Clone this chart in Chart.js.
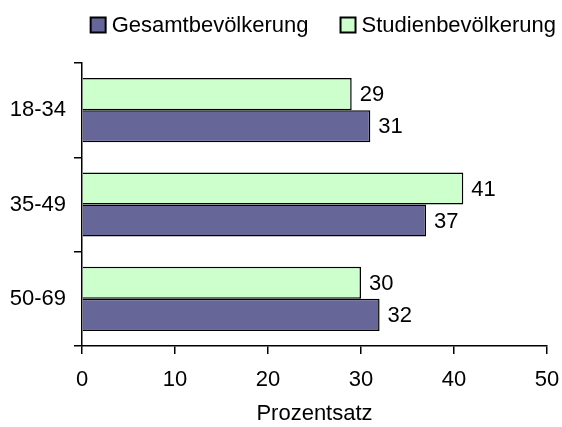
<!DOCTYPE html>
<html lang="de">
<head>
  <meta charset="UTF-8" />
  <title>Altersgruppen</title>
  <script src="https://cdn.jsdelivr.net/npm/chart.js"></script>
  <style>
    html, body {
      margin: 0;
      padding: 0;
      background: #fff;
    }
    #box {
      width: 562px;
      height: 427px;
    }
  </style>
</head>
<body>
  <div id="box"><canvas id="grafico"></canvas></div>

  <script>
    const kategorien = ["18-34", "35-49", "50-69"];
    const studien = [29, 41, 30];
    const gesamt = [31, 37, 32];
    const xTicks = [0, 10, 20, 30, 40, 50];

    const schrift = { family: "'Liberation Sans', Arial, sans-serif", size: 22 };
    const fontStr = `${schrift.size}px ${schrift.family}`;

    // Werte rechts neben die Balken schreiben
    const werteLabels = {
      id: 'werteLabels',
      afterDatasetsDraw(chart) {
        const ctx = chart.ctx;
        ctx.save();
        ctx.font = fontStr;
        ctx.fillStyle = '#000';
        ctx.textAlign = 'left';
        ctx.textBaseline = 'middle';
        chart.data.datasets.forEach((ds, i) => {
          chart.getDatasetMeta(i).data.forEach((bar, j) => {
            ctx.fillText(ds.data[j], bar.x + 8, bar.y + 1);
          });
        });
        ctx.restore();
      }
    };

    // Legende oben rechts, Reihenfolge wie im Original (Gesamt zuerst)
    const legende = {
      id: 'legende',
      afterDraw(chart) {
        const ctx = chart.ctx;
        const items = chart.data.datasets.slice().reverse();
        ctx.save();
        ctx.font = fontStr;
        ctx.textBaseline = 'middle';
        ctx.textAlign = 'left';
        const box = 15, gap = 6, between = 32, yMid = 25;
        let x = 556;
        const pos = [];
        for (let i = items.length - 1; i >= 0; i--) {
          const w = ctx.measureText(items[i].label).width;
          x -= w;
          const tx = x;
          x -= gap + box;
          pos[i] = { bx: x, tx };
          x -= between;
        }
        items.forEach((ds, i) => {
          ctx.fillStyle = ds.backgroundColor;
          ctx.fillRect(pos[i].bx, yMid - box / 2, box, box);
          ctx.lineWidth = 2;
          ctx.strokeStyle = '#000';
          ctx.strokeRect(pos[i].bx, yMid - box / 2, box, box);
          ctx.fillStyle = '#000';
          ctx.fillText(ds.label, pos[i].tx, yMid + 1);
        });
        ctx.restore();
      }
    };

    new Chart(document.getElementById("grafico"), {
      type: 'bar',
      data: {
        labels: kategorien,
        datasets: [
          {
            label: 'Studienbevölkerung',
            data: studien,
            backgroundColor: '#CCFFCC',
            borderColor: '#000',
            borderWidth: 1.5,
            categoryPercentage: 0.68,
            barPercentage: 1
          },
          {
            label: 'Gesamtbevölkerung',
            data: gesamt,
            backgroundColor: '#666699',
            borderColor: '#000',
            borderWidth: 1.5,
            categoryPercentage: 0.68,
            barPercentage: 1
          }
        ]
      },
      options: {
        indexAxis: 'y',
        responsive: true,
        maintainAspectRatio: false,
        animation: false,
        layout: { padding: { top: 63, right: 15, left: 0, bottom: 0 } },
        plugins: {
          legend: { display: false },
          tooltip: { enabled: false }
        },
        scales: {
          x: {
            min: 0,
            max: 50,
            afterBuildTicks(scale) {
              scale.ticks = xTicks.map(v => ({ value: v }));
            },
            afterFit(scale) {
              scale.height = 81;
              scale.paddingLeft = 0;
              scale.paddingRight = 0;
            },
            grid: {
              drawOnChartArea: false,
              drawTicks: true,
              tickLength: 8,
              color: '#000',
              lineWidth: 1.5
            },
            border: { display: true, color: '#000', width: 1.5 },
            ticks: { color: '#000', font: schrift, padding: 13, maxRotation: 0 },
            title: {
              display: true,
              text: 'Prozentsatz',
              color: '#000',
              font: schrift,
              padding: { top: 0, bottom: 0 }
            }
          },
          y: {
            afterFit(scale) {
              scale.width = 82;
            },
            grid: {
              offset: true,
              drawOnChartArea: false,
              drawTicks: true,
              tickLength: 8,
              color: '#000',
              lineWidth: 1.5
            },
            border: { display: true, color: '#000', width: 1.5 },
            ticks: { color: '#000', font: schrift, padding: 8 }
          }
        }
      },
      plugins: [werteLabels, legende]
    });
  </script>
</body>
</html>
